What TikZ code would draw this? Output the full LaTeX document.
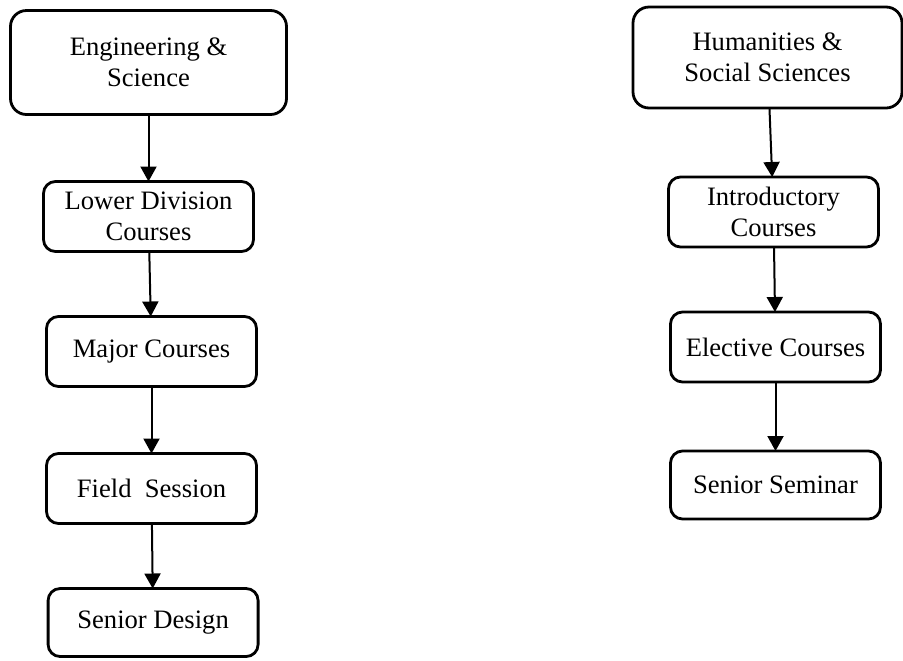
\documentclass[tikz,border=0pt]{standalone}
\usepackage{fontspec}
\setmainfont{Liberation Serif}
\usetikzlibrary{arrows.meta, positioning}

\begin{document}
\begin{tikzpicture}[
    x=0.5pt, y=-0.5pt,
    node distance=33pt,
    box/.style={draw, line width=1.4pt, rounded corners=6pt, minimum width=105pt, minimum height=35pt, inner sep=2pt, outer sep=0pt, align=center, font=\fontsize{13.3}{15.5}\selectfont},
    head/.style={box, rounded corners=8pt, minimum width=138pt, minimum height=52pt},
    arrow/.style={-{Triangle[length=7.5pt, width=8pt]}, line width=1pt}
]
\useasboundingbox (0,0) rectangle (903,660);

% Engineering column
\node[head] (eng) at (148.5,62.5) {Engineering \&\\Science};
\node[box, below=33.5pt of eng] (lower) {Lower Division\\Courses};
\node[box, below=32.5pt of lower, xshift=1.5pt] (major) {Major Courses};
\node[box, below=33.5pt of major] (field) {Field\ \ Session};
\node[box, below=32.5pt of field, xshift=0.8pt, minimum height=34pt] (design) {Senior Design};

% Humanities column
\node[head, minimum width=134.5pt, minimum height=50.5pt] (hum) at (767.5,57.5) {Humanities \&\\Social Sciences};
\node[box, below=34.5pt of hum, xshift=3pt] (intro) {Introductory\\Courses};
\node[box, below=32.5pt of intro, xshift=1pt] (elect) {Elective Courses};
\node[box, below=34.5pt of elect, minimum height=34pt] (seminar) {Senior Seminar};

% Arrows
\draw[arrow] (eng) -- (lower);
\draw[arrow] (lower) -- (major);
\draw[arrow] (major) -- (field);
\draw[arrow] (field) -- (design);
\draw[arrow] (hum) -- (intro);
\draw[arrow] (intro) -- (elect);
\draw[arrow] (elect) -- (seminar);
\end{tikzpicture}
\end{document}
